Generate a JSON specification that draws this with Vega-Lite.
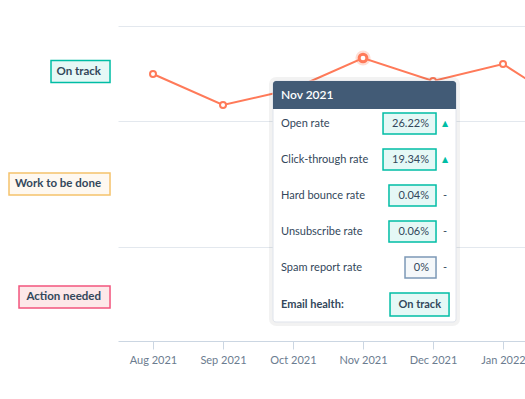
{
  "$schema": "https://vega.github.io/schema/vega-lite/v6.json",
  "width": 407,
  "height": 315,
  "autosize": "none",
  "padding": {"left": 118, "top": 26, "right": 0, "bottom": 58},
  "background": "#ffffff",
  "config": {
    "view": {"stroke": null},
    "font": "Lato",
    "axisX": {"domainColor": "#cbd6e2", "tickColor": "#cbd6e2", "tickSize": 8, "labelColor": "#6b7c8f", "labelFontSize": 11, "labelPadding": 5, "grid": false, "title": null},
    "axisY": {"gridColor": "#e3e8ee", "domain": false, "ticks": false, "labels": false, "title": null}
  },
  "datasets": {
    "trend": [
      {"idx": 0, "month": "Aug 2021", "score": 267},
      {"idx": 1, "month": "Sep 2021", "score": 236},
      {"idx": 2, "month": "Oct 2021", "score": 252},
      {"idx": 3, "month": "Nov 2021", "score": 283},
      {"idx": 4, "month": "Dec 2021", "score": 260},
      {"idx": 5, "month": "Jan 2022", "score": 277},
      {"idx": 6, "month": "Feb 2022", "score": 232}
    ],
    "statuses": [
      {"status": "On track", "center": 269.5, "start": -1.457, "end": -0.614, "kind": "good"},
      {"status": "Work to be done", "center": 157, "start": -2.057, "end": -0.614, "kind": "warn"},
      {"status": "Action needed", "center": 44, "start": -1.914, "end": -0.614, "kind": "bad"}
    ],
    "frame": [
      {"part": "panel", "title": "", "start": 1.714, "end": 4.329, "top": 260, "bottom": 19},
      {"part": "header", "title": "Nov 2021", "start": 1.714, "end": 4.329, "top": 260, "bottom": 232}
    ],
    "rows": [
      {"metric": "Open rate", "value": "26.22%", "change": "up", "rowY": 217.5, "boxStart": 3.286, "boxEnd": 4.043, "kind": "good"},
      {"metric": "Click-through rate", "value": "19.34%", "change": "up", "rowY": 181.5, "boxStart": 3.286, "boxEnd": 4.043, "kind": "good"},
      {"metric": "Hard bounce rate", "value": "0.04%", "change": "flat", "rowY": 145.5, "boxStart": 3.371, "boxEnd": 4.043, "kind": "good"},
      {"metric": "Unsubscribe rate", "value": "0.06%", "change": "flat", "rowY": 109.5, "boxStart": 3.371, "boxEnd": 4.043, "kind": "good"},
      {"metric": "Spam report rate", "value": "0%", "change": "flat", "rowY": 73.5, "boxStart": 3.6, "boxEnd": 4.043, "kind": "neutral"}
    ],
    "health": [
      {"label": "Email health:", "status": "On track", "rowY": 36.5, "boxStart": 3.386, "boxEnd": 4.229, "kind": "good"}
    ]
  },
  "layer": [
    {
      "data": {"name": "trend"},
      "mark": {"type": "line", "color": "#ff7a59", "strokeWidth": 2, "clip": true},
      "encoding": {
        "x": {"field": "idx", "type": "quantitative", "title": null,
          "scale": {"domain": [-0.5, 5.314], "nice": false, "zero": false, "padding": 0},
          "axis": {"values": [0, 1, 2, 3, 4, 5], "labelExpr": "['Aug 2021','Sep 2021','Oct 2021','Nov 2021','Dec 2021','Jan 2022','Feb 2022'][datum.value]"}},
        "y": {"field": "score", "type": "quantitative", "title": null,
          "scale": {"domain": [0, 315], "nice": false, "zero": false, "padding": 0},
          "axis": {"values": [94, 220, 315], "grid": true}}
      }
    },
    {
      "data": {"name": "trend"},
      "transform": [{"filter": "datum.month === 'Nov 2021'"}],
      "mark": {"type": "circle", "color": "#ff7a59", "opacity": 0.25, "size": 230},
      "encoding": {
        "x": {"field": "idx", "type": "quantitative", "title": null},
        "y": {"field": "score", "type": "quantitative", "title": null}
      }
    },
    {
      "data": {"name": "trend"},
      "transform": [{"filter": "datum.month !== 'Nov 2021'"}],
      "mark": {"type": "point", "shape": "circle", "filled": false, "fill": "#ffffff", "stroke": "#ff7a59", "strokeWidth": 2, "size": 36, "opacity": 1, "clip": true},
      "encoding": {
        "x": {"field": "idx", "type": "quantitative", "title": null},
        "y": {"field": "score", "type": "quantitative", "title": null}
      }
    },
    {
      "data": {"name": "trend"},
      "transform": [{"filter": "datum.month === 'Nov 2021'"}],
      "mark": {"type": "point", "shape": "circle", "filled": false, "fill": "#ffffff", "stroke": "#ff7a59", "strokeWidth": 3, "size": 60, "opacity": 1},
      "encoding": {
        "x": {"field": "idx", "type": "quantitative", "title": null},
        "y": {"field": "score", "type": "quantitative", "title": null}
      }
    },
    {
      "data": {"name": "statuses"},
      "mark": {"type": "bar", "orient": "horizontal", "height": 22, "strokeWidth": 1.5},
      "encoding": {
        "x": {"field": "start", "type": "quantitative", "title": null},
        "x2": {"field": "end"},
        "y": {"field": "center", "type": "quantitative", "title": null},
        "fill": {"field": "kind", "type": "nominal", "legend": null,
          "scale": {"domain": ["good", "warn", "bad", "neutral"], "range": ["#e5f8f6", "#fef8f0", "#fde8e9", "#f5f8fa"]}},
        "stroke": {"field": "kind", "type": "nominal", "legend": null,
          "scale": {"domain": ["good", "warn", "bad", "neutral"], "range": ["#00bda5", "#f5c26b", "#f2547d", "#7c98b6"]}}
      }
    },
    {
      "data": {"name": "statuses"},
      "mark": {"type": "text", "align": "right", "baseline": "middle", "dx": -9, "fontSize": 11.5, "fontWeight": "bold", "color": "#33475b"},
      "encoding": {
        "x": {"field": "end", "type": "quantitative", "title": null},
        "y": {"field": "center", "type": "quantitative", "title": null},
        "text": {"field": "status"}
      }
    },
    {
      "data": {"name": "frame"},
      "transform": [{"filter": "datum.part === 'panel'"}],
      "mark": {"type": "rect", "fill": "#ffffff", "stroke": "#000000", "strokeOpacity": 0.05, "strokeWidth": 8, "cornerRadius": 3},
      "encoding": {
        "x": {"field": "start", "type": "quantitative", "title": null},
        "x2": {"field": "end"},
        "y": {"field": "top", "type": "quantitative", "title": null},
        "y2": {"field": "bottom"}
      }
    },
    {
      "data": {"name": "frame"},
      "transform": [{"filter": "datum.part === 'panel'"}],
      "mark": {"type": "rect", "fill": "#ffffff", "stroke": "#dfe3eb", "strokeWidth": 1, "cornerRadius": 3},
      "encoding": {
        "x": {"field": "start", "type": "quantitative", "title": null},
        "x2": {"field": "end"},
        "y": {"field": "top", "type": "quantitative", "title": null},
        "y2": {"field": "bottom"}
      }
    },
    {
      "data": {"name": "frame"},
      "transform": [{"filter": "datum.part === 'header'"}],
      "mark": {"type": "rect", "fill": "#425b76", "cornerRadiusTopLeft": 3, "cornerRadiusTopRight": 3},
      "encoding": {
        "x": {"field": "start", "type": "quantitative", "title": null},
        "x2": {"field": "end"},
        "y": {"field": "top", "type": "quantitative", "title": null},
        "y2": {"field": "bottom"}
      }
    },
    {
      "data": {"name": "frame"},
      "transform": [{"filter": "datum.part === 'header'"}],
      "mark": {"type": "text", "align": "left", "baseline": "middle", "dx": 8, "dy": 14, "fontSize": 12, "fontWeight": 600, "color": "#ffffff"},
      "encoding": {
        "x": {"field": "start", "type": "quantitative", "title": null},
        "y": {"field": "top", "type": "quantitative", "title": null},
        "text": {"field": "title"}
      }
    },
    {
      "data": {"name": "rows"},
      "mark": {"type": "text", "align": "left", "baseline": "middle", "dx": 8, "fontSize": 11, "color": "#33475b"},
      "encoding": {
        "x": {"datum": 1.714, "type": "quantitative", "title": null},
        "y": {"field": "rowY", "type": "quantitative", "title": null},
        "text": {"field": "metric"}
      }
    },
    {
      "data": {"name": "rows"},
      "mark": {"type": "bar", "orient": "horizontal", "height": 21, "strokeWidth": 1.5},
      "encoding": {
        "x": {"field": "boxStart", "type": "quantitative", "title": null},
        "x2": {"field": "boxEnd"},
        "y": {"field": "rowY", "type": "quantitative", "title": null},
        "fill": {"field": "kind", "type": "nominal", "legend": null},
        "stroke": {"field": "kind", "type": "nominal", "legend": null}
      }
    },
    {
      "data": {"name": "rows"},
      "mark": {"type": "text", "align": "right", "baseline": "middle", "dx": -7, "fontSize": 11, "color": "#33475b"},
      "encoding": {
        "x": {"field": "boxEnd", "type": "quantitative", "title": null},
        "y": {"field": "rowY", "type": "quantitative", "title": null},
        "text": {"field": "value"}
      }
    },
    {
      "data": {"name": "rows"},
      "transform": [{"filter": "datum.change === 'up'"}],
      "mark": {"type": "text", "align": "center", "baseline": "middle", "dx": 9, "fontSize": 8, "font": "DejaVu Sans", "color": "#00bda5"},
      "encoding": {
        "x": {"field": "boxEnd", "type": "quantitative", "title": null},
        "y": {"field": "rowY", "type": "quantitative", "title": null},
        "text": {"value": "▲"}
      }
    },
    {
      "data": {"name": "rows"},
      "transform": [{"filter": "datum.change === 'flat'"}],
      "mark": {"type": "text", "align": "center", "baseline": "middle", "dx": 9, "fontSize": 11, "color": "#33475b"},
      "encoding": {
        "x": {"field": "boxEnd", "type": "quantitative", "title": null},
        "y": {"field": "rowY", "type": "quantitative", "title": null},
        "text": {"value": "-"}
      }
    },
    {
      "data": {"name": "health"},
      "mark": {"type": "text", "align": "left", "baseline": "middle", "dx": 8, "fontSize": 11, "fontWeight": "bold", "color": "#33475b"},
      "encoding": {
        "x": {"datum": 1.714, "type": "quantitative", "title": null},
        "y": {"field": "rowY", "type": "quantitative", "title": null},
        "text": {"field": "label"}
      }
    },
    {
      "data": {"name": "health"},
      "mark": {"type": "bar", "orient": "horizontal", "height": 23, "strokeWidth": 1.5},
      "encoding": {
        "x": {"field": "boxStart", "type": "quantitative", "title": null},
        "x2": {"field": "boxEnd"},
        "y": {"field": "rowY", "type": "quantitative", "title": null},
        "fill": {"field": "kind", "type": "nominal", "legend": null},
        "stroke": {"field": "kind", "type": "nominal", "legend": null}
      }
    },
    {
      "data": {"name": "health"},
      "mark": {"type": "text", "align": "right", "baseline": "middle", "dx": -8, "fontSize": 11, "fontWeight": "bold", "color": "#33475b"},
      "encoding": {
        "x": {"field": "boxEnd", "type": "quantitative", "title": null},
        "y": {"field": "rowY", "type": "quantitative", "title": null},
        "text": {"field": "status"}
      }
    }
  ]
}
